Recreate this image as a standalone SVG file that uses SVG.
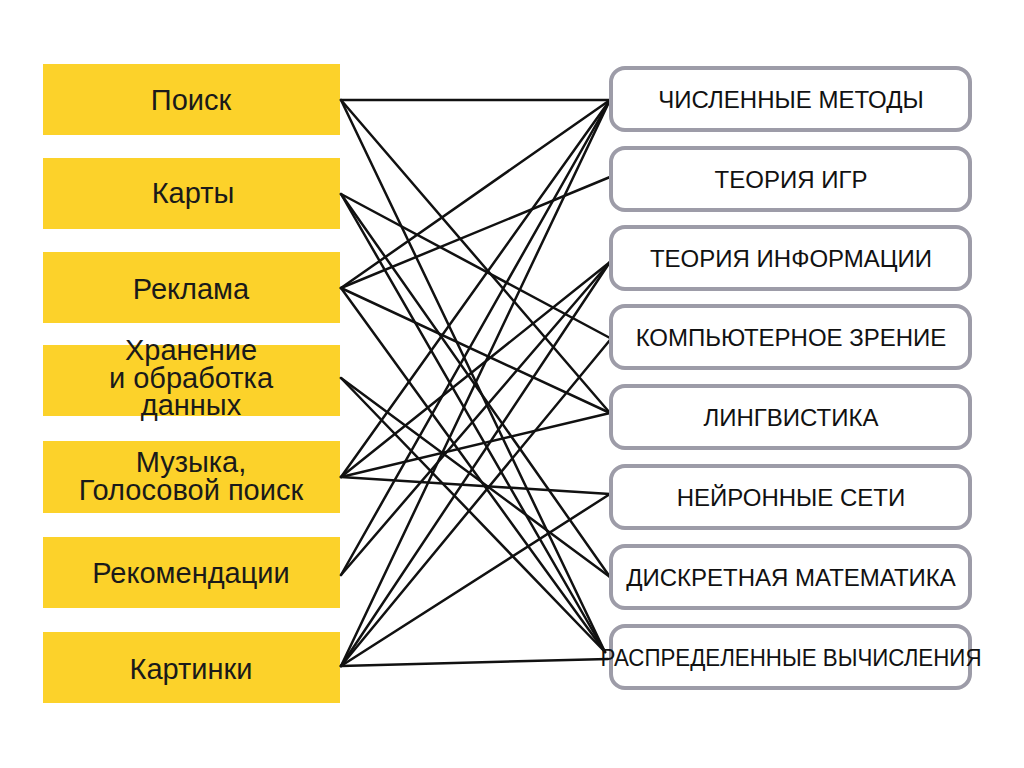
<svg xmlns="http://www.w3.org/2000/svg" width="1024" height="768" viewBox="0 0 1024 768">
<style>
.lb{fill:#FCD22A}
.lt{font-family:"Liberation Sans",Arial,sans-serif;font-size:29px;fill:#1a1a1a;text-anchor:middle}
.rb{fill:#fff;stroke:#9d9ca8;stroke-width:4}
.rt{font-family:"Liberation Sans",Arial,sans-serif;font-size:24px;fill:#111;text-anchor:middle}
.c line{stroke:#111;stroke-width:2.5;stroke-linecap:round}
</style>
<rect width="1024" height="768" fill="#fff"/>
<g id="poisk"><rect class="lb" x="43" y="64" width="297" height="71"/><text class="lt" x="191" y="110">Поиск</text></g>
<g id="karty"><rect class="lb" x="43" y="158" width="297" height="71"/><text class="lt" x="193" y="203">Карты</text></g>
<g id="reklama"><rect class="lb" x="43" y="252" width="297" height="71"/><text class="lt" x="191" y="299">Реклама</text></g>
<g id="hranenie"><rect class="lb" x="43" y="345" width="297" height="71"/><text class="lt" x="191" y="360">Хранение</text><text class="lt" x="191" y="388">и обработка</text><text class="lt" x="191" y="415">данных</text></g>
<g id="muzyka"><rect class="lb" x="43" y="441" width="297" height="72"/><text class="lt" x="191" y="472">Музыка,</text><text class="lt" x="191" y="500">Голосовой поиск</text></g>
<g id="rekomendacii"><rect class="lb" x="43" y="537" width="297" height="71"/><text class="lt" x="191" y="583">Рекомендации</text></g>
<g id="kartinki"><rect class="lb" x="43" y="632" width="297" height="71"/><text class="lt" x="191" y="679">Картинки</text></g>

<g class="c" id="connectors">
<line x1="341" y1="100" x2="610" y2="100"/>
<line x1="341" y1="100" x2="610" y2="413"/>
<line x1="341" y1="100" x2="605" y2="652"/>
<line x1="341" y1="194" x2="610" y2="338"/>
<line x1="341" y1="194" x2="610" y2="577"/>
<line x1="341" y1="194" x2="605" y2="652"/>
<line x1="341" y1="288" x2="610" y2="100"/>
<line x1="341" y1="288" x2="610" y2="177"/>
<line x1="341" y1="288" x2="610" y2="413"/>
<line x1="341" y1="288" x2="605" y2="652"/>
<line x1="341" y1="378" x2="610" y2="577"/>
<line x1="341" y1="378" x2="605" y2="652"/>
<line x1="341" y1="477" x2="610" y2="100"/>
<line x1="341" y1="477" x2="610" y2="262"/>
<line x1="341" y1="477" x2="610" y2="413"/>
<line x1="341" y1="477" x2="610" y2="494"/>
<line x1="341" y1="575" x2="610" y2="100"/>
<line x1="341" y1="575" x2="610" y2="262"/>
<line x1="341" y1="666" x2="610" y2="100"/>
<line x1="341" y1="666" x2="610" y2="262"/>
<line x1="341" y1="666" x2="610" y2="340"/>
<line x1="341" y1="666" x2="610" y2="494"/>
<line x1="341" y1="666" x2="608" y2="659"/>
</g>

<g id="chm"><rect class="rb" x="611" y="68" width="359" height="62" rx="14"/><text class="rt" x="791" y="108">ЧИСЛЕННЫЕ МЕТОДЫ</text></g>
<g id="tigr"><rect class="rb" x="611" y="148" width="359" height="62" rx="14"/><text class="rt" x="791" y="188">ТЕОРИЯ ИГР</text></g>
<g id="tinf"><rect class="rb" x="611" y="227" width="359" height="62" rx="14"/><text class="rt" x="791" y="267">ТЕОРИЯ ИНФОРМАЦИИ</text></g>
<g id="kz"><rect class="rb" x="611" y="306" width="359" height="62" rx="14"/><text class="rt" x="791" y="346">КОМПЬЮТЕРНОЕ ЗРЕНИЕ</text></g>
<g id="ling"><rect class="rb" x="611" y="386" width="359" height="62" rx="14"/><text class="rt" x="791" y="426">ЛИНГВИСТИКА</text></g>
<g id="ns"><rect class="rb" x="611" y="466" width="359" height="62" rx="14"/><text class="rt" x="791" y="506">НЕЙРОННЫЕ СЕТИ</text></g>
<g id="dm"><rect class="rb" x="611" y="546" width="359" height="62" rx="14"/><text class="rt" x="791" y="586">ДИСКРЕТНАЯ МАТЕМАТИКА</text></g>
<g id="rv"><rect class="rb" x="611" y="626" width="359" height="62" rx="14"/><text class="rt" x="791" y="666" textLength="381" lengthAdjust="spacingAndGlyphs">РАСПРЕДЕЛЕННЫЕ ВЫЧИСЛЕНИЯ</text></g>
</svg>
